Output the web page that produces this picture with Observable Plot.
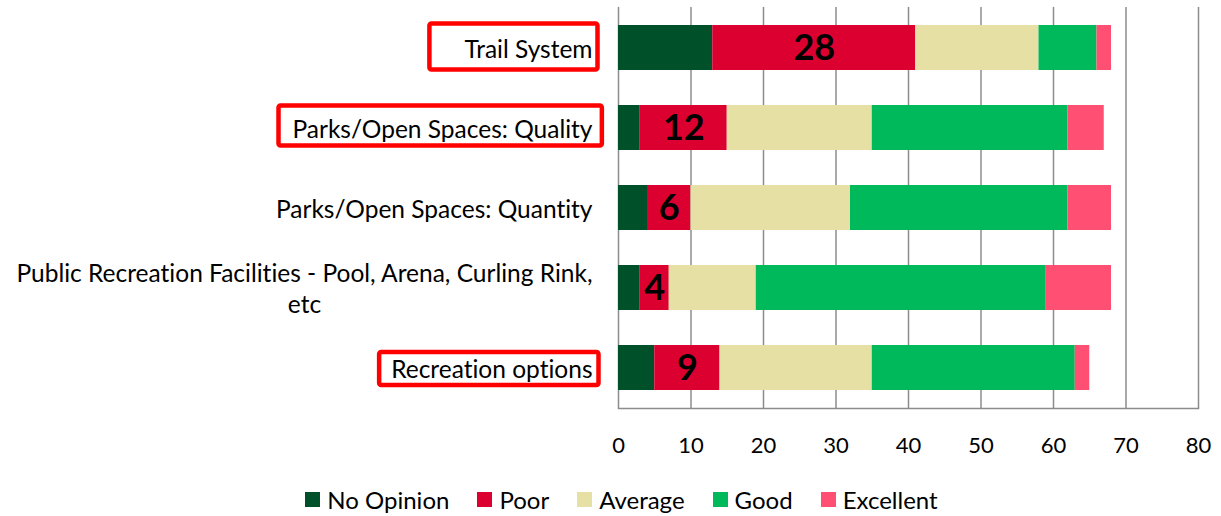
<!DOCTYPE html>
<html>
<head>
<meta charset="utf-8">
<script src="https://cdn.jsdelivr.net/npm/d3@7"></script>
<script src="https://cdn.jsdelivr.net/npm/@observablehq/plot@0.6"></script>
<style>
  html, body { margin: 0; padding: 0; background: #fff; }
  body { width: 1221px; height: 516px; overflow: hidden; font-family: Lato, sans-serif; font-variant-ligatures: none; }
  svg text { font-variant-ligatures: none; }
  #legend { display: flex; justify-content: center; align-items: center; height: 48px; padding-left: 22px; box-sizing: border-box; padding-top: 14px; }
  .item { display: flex; align-items: center; margin: 0 14px; font-size: 24px; color: #000; }
  .sw { width: 15px; height: 15px; margin-right: 7px; }
</style>
</head>
<body>
<div id="chart"></div>
<div id="legend"></div>
<script>
// ---- data ----
const categories = [
  "Trail System",
  "Parks/Open Spaces: Quality",
  "Parks/Open Spaces: Quantity",
  "Public Recreation Facilities - Pool, Arena, Curling Rink, etc",
  "Recreation options"
];
const ratings = ["No Opinion", "Poor", "Average", "Good", "Excellent"];
const noOpinion = [13, 3, 4, 3, 5];
const poor      = [28, 12, 6, 4, 9];
const average   = [17, 20, 22, 12, 21];
const good      = [8, 27, 30, 40, 28];
const excellent = [2, 5, 6, 9, 2];
const colors = ["#00502A", "#DC0030", "#E6E0A5", "#00B95A", "#FF5073"];
const xTicks = [0, 10, 20, 30, 40, 50, 60, 70, 80];
const highlighted = ["Trail System", "Parks/Open Spaces: Quality", "Recreation options"];
// annotation box shapes (relative to label text)
const boxStyle = {
  "Trail System": {padLeft: 35, padRight: 5, height: 46, dy: -1},
  "Parks/Open Spaces: Quality": {padLeft: 14, padRight: 9, height: 40, dy: -2},
  "Recreation options": {padLeft: 12, padRight: 6, height: 33, dy: 1}
};

const series = [noOpinion, poor, average, good, excellent];
const data = categories.flatMap((c, i) => ratings.map((r, j) => ({category: c, rating: r, value: series[j][i]})));

const wrap = d => d.replace("Rink, ", "Rink,\n");

const chart = Plot.plot({
  width: 1221,
  height: 468,
  marginLeft: 618,
  marginRight: 23,
  marginTop: 7,
  marginBottom: 60,
  style: {fontFamily: "Lato, sans-serif", color: "#000", background: "#fff"},
  x: {domain: [0, 80], ticks: xTicks},
  y: {domain: categories, paddingInner: 0.434, paddingOuter: 0.217, axis: null},
  color: {domain: ratings, range: colors},
  marks: [
    Plot.gridX(xTicks, {stroke: "#8c8c8c", strokeOpacity: 1, strokeWidth: 1.5}),
    Plot.barX(data, Plot.stackX({x: "value", y: "category", fill: "rating"})),
    Plot.text(data, Plot.stackX({
      x: "value", y: "category",
      text: d => d.rating === "Poor" ? String(d.value) : null,
      fontSize: 36, fontWeight: "bold", fill: "#000"
    })),
    Plot.frame({anchor: "bottom", stroke: "#8c8c8c", strokeWidth: 1.5}),
    Plot.axisX({ticks: xTicks, tickSize: 0, tickPadding: 29, fontSize: 22, anchor: "bottom", label: null}),
    Plot.text(categories, {
      y: d => d, text: wrap, frameAnchor: "left", dx: -26, textAnchor: "end",
      fontSize: 24.5, lineHeight: 1.265, fill: "#000"
    })
  ]
});

document.getElementById("chart").append(chart);

// the category labels are the last text mark
const textGroups = chart.querySelectorAll('g[aria-label="text"]');
const labelGroup = textGroups[textGroups.length - 1];
const labelTexts = Array.from(labelGroup.querySelectorAll("text"));

// center the wrapped second line under the first one
labelTexts.forEach(t => {
  const spans = t.querySelectorAll("tspan");
  if (spans.length > 1) {
    const w0 = spans[0].getComputedTextLength();
    for (let k = 1; k < spans.length; k++) {
      spans[k].setAttribute("x", -w0 / 2);
      spans[k].setAttribute("text-anchor", "middle");
    }
  }
});

// red highlight boxes around selected labels
const yScale = chart.scale("y");
const svgRect = chart.getBoundingClientRect();
const sel = d3.select(chart);
labelTexts.forEach((t, i) => {
  const label = categories[i];
  if (!highlighted.includes(label)) return;
  const s = boxStyle[label];
  const r = t.getBoundingClientRect();
  const cy = yScale.apply(label) + yScale.bandwidth / 2 + s.dy;
  const x0 = r.left - svgRect.left - s.padLeft;
  const x1 = r.right - svgRect.left + s.padRight;
  sel.append("rect")
    .attr("x", x0).attr("y", cy - s.height / 2)
    .attr("width", x1 - x0).attr("height", s.height)
    .attr("rx", 2)
    .attr("fill", "none").attr("stroke", "#FF0000").attr("stroke-width", 4.5);
});

// legend
const legend = d3.select("#legend");
ratings.forEach((r, i) => {
  const it = legend.append("div").attr("class", "item");
  it.append("div").attr("class", "sw").style("background", colors[i]);
  it.append("span").text(r);
});
</script>
</body>
</html>
